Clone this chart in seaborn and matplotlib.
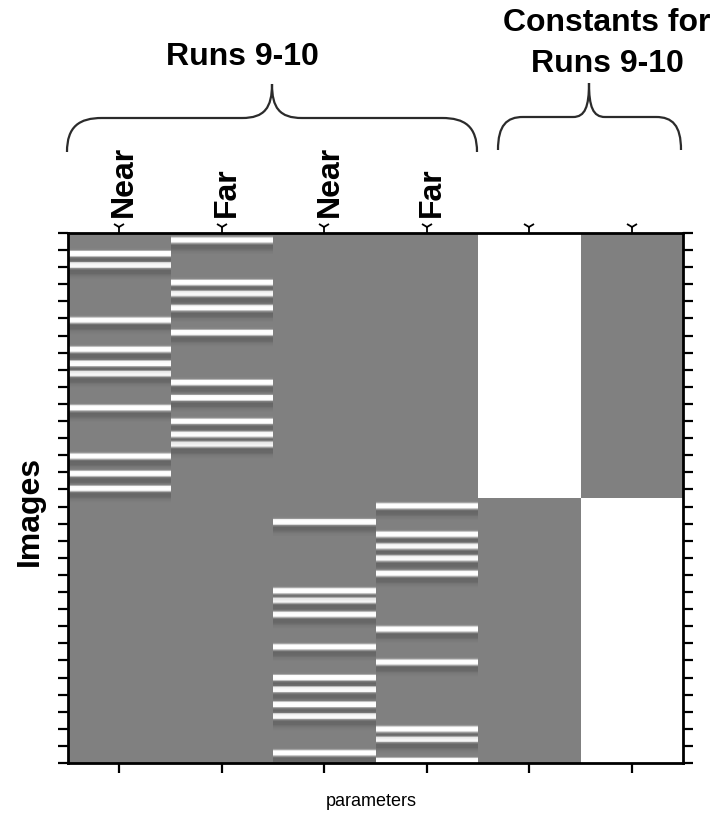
import matplotlib
matplotlib.use("Agg")
import matplotlib.pyplot as plt
import numpy as np
import pandas as pd
import seaborn as sns
from matplotlib.path import Path
from matplotlib.patches import PathPatch

sns.set_style("white")
plt.rcParams["font.family"] = ["Liberation Sans", "DejaVu Sans"]
plt.rcParams["text.color"] = "black"

RUN_SCANS = [155, 155]
COLUMNS = ["near_run9", "far_run9", "near_run10", "far_run10", "const_run9", "const_run10"]
TOP_LABELS = ["Near", "Far", "Near", "Far", "", ""]
NEAR_RUN9 = [11.9, 18.7, 50.9, 68.0, 76.2, 82.1, 102.2, 130.4, 140.6, 149.3]
FAR_RUN9 = [4.1, 28.8, 35.3, 43.7, 58.1, 87.3, 96.3, 110.0, 117.7, 123.4]
NEAR_RUN10 = [168.9, 209.2, 214.7, 223.0, 242.0, 259.9, 266.9, 275.7, 282.5, 304.0]
FAR_RUN10 = [159.5, 176.2, 183.1, 190.1, 199.0, 231.6, 250.9, 290.1, 296.0, 308.6]

# response profile around each peak (scans), used for the stripe shading
PROFILE_OFFSETS = [-3.2, -2.2, -1.7, -1.2, 0.0, 1.2, 1.7, 2.3, 3.2, 5.0, 6.5, 8.5]
PROFILE_VALUES = [0.0, 0.05, 0.4, 0.97, 1.0, 0.97, 0.5, 0.0, -0.2, -0.18, -0.06, 0.0]

UPSAMPLE = 4
TICK_STEP = 10

W, H = 725, 818


def regressor(peaks, t):
    out = np.zeros_like(t)
    for p in peaks:
        out += np.interp(t - p, PROFILE_OFFSETS, PROFILE_VALUES, left=0, right=0)
    return out


def build_matrix() -> pd.DataFrame:
    n = sum(RUN_SCANS)
    t = (np.arange(n * UPSAMPLE) + 0.5) / UPSAMPLE
    run1 = (t < RUN_SCANS[0]).astype(float)
    data = {
        "near_run9": regressor(NEAR_RUN9, t),
        "far_run9": regressor(FAR_RUN9, t),
        "near_run10": regressor(NEAR_RUN10, t),
        "far_run10": regressor(FAR_RUN10, t),
        "const_run9": run1,
        "const_run10": 1 - run1,
    }
    return pd.DataFrame(data, columns=COLUMNS)


def px(x, y):
    return x / W, 1 - y / H


def draw_brace(fig, x0, x1, xc, y_end, y_bar, y_tip, r, rc):
    dy = y_end - y_bar
    dt = y_bar - y_tip
    pts = [
        (x0, y_end),
        (x0, y_bar + dy * 0.25), (x0 + r * 0.35, y_bar), (x0 + r, y_bar),
        (xc - rc, y_bar),
        (xc - rc * 0.25, y_bar), (xc, y_bar - dt * 0.3), (xc, y_tip),
        (xc, y_bar - dt * 0.3), (xc + rc * 0.25, y_bar), (xc + rc, y_bar),
        (x1 - r, y_bar),
        (x1 - r * 0.35, y_bar), (x1, y_bar + dy * 0.25), (x1, y_end),
    ]
    codes = ([Path.MOVETO] + [Path.CURVE4] * 3 + [Path.LINETO] + [Path.CURVE4] * 6
             + [Path.LINETO] + [Path.CURVE4] * 3)
    path = Path([px(*p) for p in pts], codes)
    fig.patches.append(PathPatch(path, transform=fig.transFigure, fill=False,
                                 edgecolor="#2b2b2b", lw=1.6))


def main() -> None:
    df = build_matrix()
    n = sum(RUN_SCANS)

    fig = plt.figure(figsize=(W / 100, H / 100), dpi=100)
    left, right, top, bottom = 68, 683, 233, 763
    ax = fig.add_axes([left / W, 1 - bottom / H, (right - left) / W, (bottom - top) / H])
    sns.heatmap(df, cmap="gray", vmin=-1, vmax=1, cbar=False, ax=ax)

    ax.set_xlabel("")
    ax.set_ylabel("")
    ax.set_yticks(np.arange(0, n + 1, TICK_STEP) * UPSAMPLE, labels=[])
    ax.set_xticks(np.arange(len(COLUMNS)) + 0.5, labels=[])
    ax.tick_params(axis="y", left=True, right=True, direction="out", length=7,
                   width=1.6, color="black")
    ax.tick_params(axis="x", bottom=True, top=False, direction="out", length=7,
                   width=1.6, color="black")
    for s in ax.spines.values():
        s.set_visible(True)
        s.set_linewidth(2)
        s.set_color("black")

    # estimability markers over each column
    ax.plot(np.arange(len(COLUMNS)) + 0.5, [1.012] * len(COLUMNS), ls="none",
            marker="1", ms=9, mew=1.3, color="black",
            transform=ax.get_xaxis_transform(), clip_on=False)

    for i, lab in enumerate(TOP_LABELS):
        if lab:
            ax.text(i + 0.55, 1.03, lab, rotation=90, ha="center", va="bottom",
                    fontsize=23, fontweight="bold", transform=ax.get_xaxis_transform())

    draw_brace(fig, 67, 477, 272, 152, 118, 84, 35, 30)
    draw_brace(fig, 498, 681, 589, 150, 117, 83, 25, 16)

    fig.text(*px(242, 57), "Runs 9-10", ha="center", va="center",
             fontsize=23, fontweight="bold")
    fig.text(*px(607, 23), "Constants for", ha="center", va="center",
             fontsize=23, fontweight="bold")
    fig.text(*px(607, 64), "Runs 9-10", ha="center", va="center",
             fontsize=23, fontweight="bold")
    fig.text(*px(30, 511), "Images", ha="center", va="center", rotation=90,
             fontsize=23, fontweight="bold")
    fig.text(*px(371, 802), "parameters", ha="center", va="center", fontsize=13)

    fig.savefig("out.png", dpi=100)
    plt.close(fig)


if __name__ == "__main__":
    main()
